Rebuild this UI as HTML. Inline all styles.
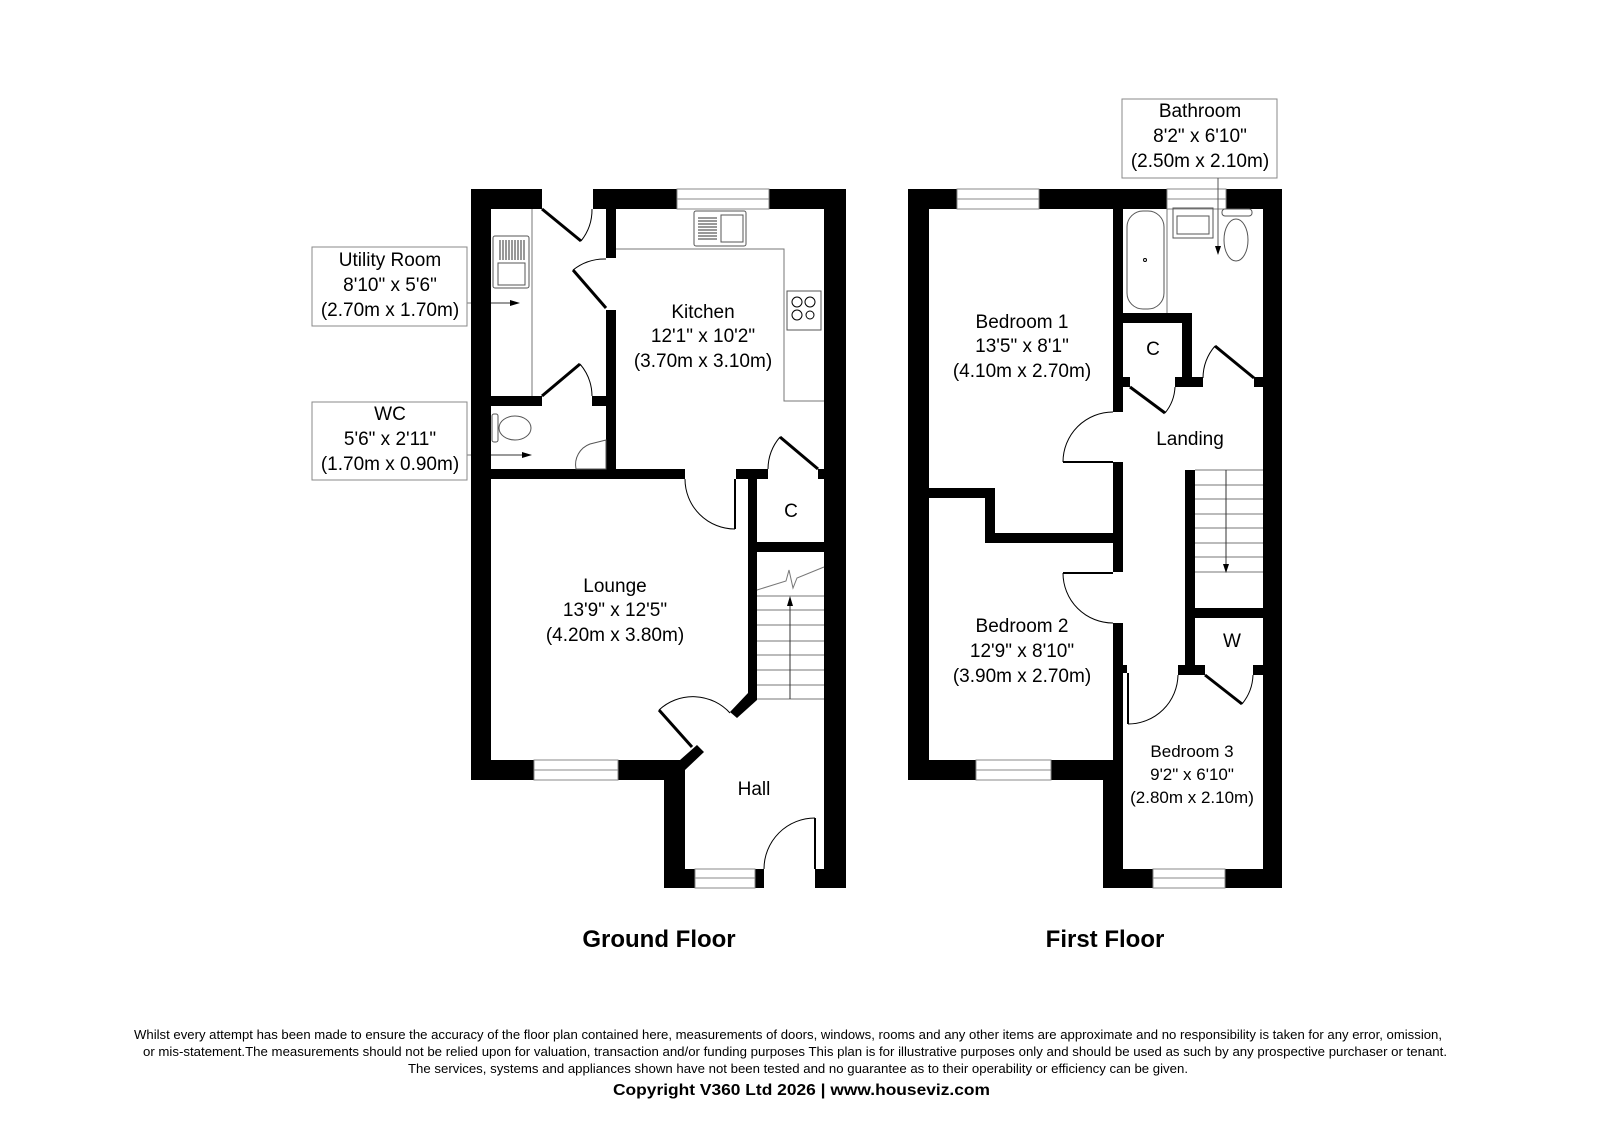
<!DOCTYPE html>
<html><head><meta charset="utf-8"><style>
html,body{margin:0;padding:0;background:#fff}
svg{display:block}
text{font-family:"Liberation Sans",Arial,sans-serif;fill:#000}
</style></head><body>
<svg width="1600" height="1131" viewBox="0 0 1600 1131" xmlns="http://www.w3.org/2000/svg">
<rect width="1600" height="1131" fill="#fff"/>
<!-- ===== GROUND FLOOR ===== -->
<g fill="#000">
<rect x="471" y="189" width="71" height="20"/>
<rect x="593" y="189" width="84" height="20"/>
<rect x="769" y="189" width="77" height="20"/>
<rect x="824" y="189" width="22" height="699"/>
<rect x="471" y="189" width="20" height="591"/>
<rect x="471" y="760" width="63" height="20"/>
<rect x="618" y="760" width="62" height="20"/>
<polygon points="680,760 697,745 704,752 685,770 685,780 680,780"/>
<rect x="664" y="760" width="21" height="128"/>
<rect x="664" y="869" width="31" height="19"/>
<rect x="755" y="869" width="9" height="19"/>
<rect x="815" y="869" width="31" height="19"/>
<rect x="606" y="209" width="10" height="49"/>
<rect x="606" y="310" width="10" height="169"/>
<rect x="491" y="396" width="51" height="10"/>
<rect x="592" y="396" width="24" height="10"/>
<rect x="491" y="469" width="194" height="10"/>
<rect x="736" y="469" width="32" height="10"/>
<rect x="818" y="469" width="6" height="10"/>
<rect x="748" y="479" width="9" height="214"/>
<rect x="757" y="542" width="67" height="10"/>
<polygon points="748,693 757,693 757,700 737,718 730,712"/>
</g>
<!-- windows GF -->
<g fill="#fff" stroke="#888" stroke-width="1">
<rect x="677" y="189" width="92" height="20"/><line x1="677" y1="199" x2="769" y2="199"/>
<rect x="534" y="760" width="84" height="20"/><line x1="534" y1="770" x2="618" y2="770"/>
<rect x="695" y="869" width="60" height="19"/><line x1="695" y1="878" x2="755" y2="878"/>
</g>
<g fill="none" stroke="#000" stroke-width="1">
<!-- doors GF -->
<line x1="542" y1="209" x2="581" y2="241" stroke-width="3"/>
<path d="M581,241 A50,50 0 0 0 592,209"/>
<line x1="606" y1="308" x2="573" y2="270" stroke-width="3"/>
<path d="M573,270 A51,51 0 0 1 606,259"/>
<line x1="542" y1="396" x2="580" y2="364" stroke-width="3"/>
<path d="M580,364 A50,50 0 0 1 592,396"/>
<line x1="735" y1="479" x2="735" y2="529" stroke-width="2"/>
<path d="M685,479 A50,50 0 0 0 735,529"/>
<line x1="818" y1="469" x2="780" y2="437" stroke-width="3"/>
<path d="M780,437 A50,50 0 0 0 768,469"/>
<line x1="692" y1="747" x2="659" y2="710" stroke-width="3"/>
<path d="M659,710 A50,50 0 0 1 730,713"/>
<line x1="815" y1="869" x2="815" y2="818" stroke-width="2"/>
<path d="M815,818 A51,51 0 0 0 764,869"/>
<!-- worktops -->
<polyline points="616,249 784,249 784,401 824,401" stroke="#777"/>
<line x1="532" y1="209" x2="532" y2="396" stroke="#777"/>
<!-- kitchen sink -->
<rect x="694" y="211" width="52" height="35" rx="2" stroke="#555"/>
<rect x="721" y="215" width="22" height="27" stroke="#555"/>
<g stroke="#333"><line x1="698" y1="218" x2="717" y2="218"/><line x1="698" y1="221" x2="717" y2="221"/><line x1="698" y1="224" x2="717" y2="224"/><line x1="698" y1="227" x2="717" y2="227"/><line x1="698" y1="230" x2="717" y2="230"/><line x1="698" y1="233" x2="717" y2="233"/><line x1="698" y1="236" x2="717" y2="236"/><line x1="698" y1="239" x2="717" y2="239"/></g>
<!-- hob -->
<rect x="787" y="291" width="34" height="39" stroke="#555"/>
<circle cx="797" cy="302" r="5"/><circle cx="810" cy="302" r="5"/><circle cx="797" cy="315" r="5"/><circle cx="810" cy="315" r="4"/>
<!-- utility sink -->
<rect x="493" y="236" width="36" height="52" rx="2" stroke="#555"/>
<rect x="498" y="263" width="27" height="22" stroke="#555"/>
<g stroke="#333"><line x1="500" y1="240" x2="500" y2="260"/><line x1="503" y1="240" x2="503" y2="260"/><line x1="506" y1="240" x2="506" y2="260"/><line x1="509" y1="240" x2="509" y2="260"/><line x1="512" y1="240" x2="512" y2="260"/><line x1="515" y1="240" x2="515" y2="260"/><line x1="518" y1="240" x2="518" y2="260"/><line x1="521" y1="240" x2="521" y2="260"/><line x1="524" y1="240" x2="524" y2="260"/></g>
<!-- WC toilet -->
<rect x="492" y="414" width="6" height="28" rx="2" stroke="#555"/>
<ellipse cx="515" cy="428" rx="16" ry="12" stroke="#555"/>
<path d="M590,444 A22,22 0 0 0 576,469 L606,469 L606,440 Z" stroke="#555"/>
<!-- stairs GF -->
<g stroke="#777">
<line x1="757" y1="596" x2="824" y2="596"/><line x1="757" y1="610" x2="824" y2="610"/>
<line x1="757" y1="625" x2="824" y2="625"/><line x1="757" y1="641" x2="824" y2="641"/>
<line x1="757" y1="655" x2="824" y2="655"/><line x1="757" y1="670" x2="824" y2="670"/>
<line x1="757" y1="685" x2="824" y2="685"/><line x1="757" y1="699" x2="824" y2="699"/>
<polyline points="757,590 786,581 789,570 793,588 797,578 824,567"/>
<line x1="790" y1="699" x2="790" y2="602" stroke="#333"/>
</g>
<!-- leaders -->
<line x1="467" y1="303" x2="471" y2="303" stroke="#777"/>
<line x1="491" y1="303" x2="514" y2="303" stroke="#333"/>
<line x1="467" y1="455" x2="471" y2="455" stroke="#777"/>
<line x1="491" y1="455" x2="526" y2="455" stroke="#333"/>
</g>
<polygon points="790,596 787,606 793,606" fill="#000"/>
<polygon points="520,303 510,300 510,306" fill="#000"/>
<polygon points="532,455 522,452 522,458" fill="#000"/>
<!-- label boxes -->
<g fill="#fff" stroke="#888" stroke-width="1">
<rect x="312" y="247" width="155" height="79"/>
<rect x="312" y="402" width="155" height="78"/>
<rect x="1122" y="99" width="155" height="79"/>
</g>
<g font-size="19" text-anchor="middle">
<text x="390" y="266">Utility Room</text><text x="390" y="291">8'10" x 5'6"</text><text x="390" y="316">(2.70m x 1.70m)</text>
<text x="390" y="420">WC</text><text x="390" y="445">5'6" x 2'11"</text><text x="390" y="470">(1.70m x 0.90m)</text>
<text x="1200" y="117">Bathroom</text><text x="1200" y="142">8'2" x 6'10"</text><text x="1200" y="167">(2.50m x 2.10m)</text>
<text x="703" y="318">Kitchen</text><text x="703" y="342">12'1" x 10'2"</text><text x="703" y="367">(3.70m x 3.10m)</text>
<text x="615" y="592">Lounge</text><text x="615" y="616">13'9" x 12'5"</text><text x="615" y="641">(4.20m x 3.80m)</text>
<text x="754" y="795">Hall</text>
<text x="791" y="517">C</text>
<text x="1022" y="328">Bedroom 1</text><text x="1022" y="352">13'5" x 8'1"</text><text x="1022" y="377">(4.10m x 2.70m)</text>
<text x="1190" y="445">Landing</text>
<text x="1153" y="355">C</text>
<text x="1022" y="632">Bedroom 2</text><text x="1022" y="657">12'9" x 8'10"</text><text x="1022" y="682">(3.90m x 2.70m)</text>
<text x="1232" y="647">W</text>
</g>
<g font-size="17" text-anchor="middle">
<text x="1192" y="757">Bedroom 3</text><text x="1192" y="780">9'2" x 6'10"</text><text x="1192" y="803">(2.80m x 2.10m)</text>
</g>
<!-- ===== FIRST FLOOR ===== -->
<g fill="#000">
<rect x="908" y="189" width="49" height="20"/>
<rect x="1039" y="189" width="128" height="20"/>
<rect x="1226" y="189" width="56" height="20"/>
<rect x="908" y="189" width="21" height="591"/>
<rect x="1263" y="189" width="19" height="699"/>
<rect x="908" y="760" width="68" height="20"/>
<rect x="1051" y="760" width="72" height="20"/>
<rect x="1103" y="760" width="20" height="128"/>
<rect x="1103" y="869" width="50" height="19"/>
<rect x="1225" y="869" width="57" height="19"/>
<rect x="1113" y="209" width="10" height="203"/>
<rect x="1113" y="462" width="10" height="110"/>
<rect x="1113" y="623" width="10" height="137"/>
<rect x="929" y="488" width="66" height="10"/>
<rect x="985" y="488" width="10" height="55"/>
<rect x="985" y="533" width="128" height="10"/>
<rect x="1123" y="313" width="69" height="10"/>
<rect x="1182" y="313" width="10" height="74"/>
<rect x="1123" y="377" width="7" height="10"/>
<rect x="1175" y="377" width="28" height="10"/>
<rect x="1254" y="377" width="9" height="10"/>
<rect x="1185" y="470" width="10" height="148"/>
<rect x="1185" y="608" width="78" height="10"/>
<rect x="1185" y="618" width="10" height="50"/>
<rect x="1178" y="665" width="27" height="10"/>
<rect x="1253" y="665" width="10" height="10"/>
<rect x="1123" y="665" width="4" height="8"/>
</g>
<g fill="#fff" stroke="#888" stroke-width="1">
<rect x="957" y="189" width="82" height="20"/><line x1="957" y1="199" x2="1039" y2="199"/>
<rect x="1167" y="189" width="59" height="20"/><line x1="1167" y1="199" x2="1226" y2="199"/>
<rect x="976" y="760" width="75" height="20"/><line x1="976" y1="770" x2="1051" y2="770"/>
<rect x="1153" y="869" width="72" height="19"/><line x1="1153" y1="878" x2="1225" y2="878"/>
</g>
<g fill="none" stroke="#000" stroke-width="1">
<line x1="1113" y1="462" x2="1063" y2="462" stroke-width="2"/>
<path d="M1063,462 A50,50 0 0 1 1113,412"/>
<line x1="1113" y1="573" x2="1063" y2="573" stroke-width="2"/>
<path d="M1063,573 A50,50 0 0 0 1113,623"/>
<line x1="1130" y1="387" x2="1165" y2="413" stroke-width="3"/>
<path d="M1165,413 A44,44 0 0 0 1175,387"/>
<line x1="1254" y1="378" x2="1215" y2="346" stroke-width="3"/>
<path d="M1215,346 A50,50 0 0 0 1203,378"/>
<line x1="1205" y1="675" x2="1242" y2="704" stroke-width="3"/>
<path d="M1242,704 A48,48 0 0 0 1253,675"/>
<line x1="1128" y1="673" x2="1128" y2="724" stroke-width="2"/>
<path d="M1128,724 A50,50 0 0 0 1178,675"/>
<!-- stairs FF -->
<g stroke="#777">
<line x1="1195" y1="470" x2="1263" y2="470"/><line x1="1195" y1="485" x2="1263" y2="485"/>
<line x1="1195" y1="499" x2="1263" y2="499"/><line x1="1195" y1="514" x2="1263" y2="514"/>
<line x1="1195" y1="528" x2="1263" y2="528"/><line x1="1195" y1="543" x2="1263" y2="543"/>
<line x1="1195" y1="557" x2="1263" y2="557"/><line x1="1195" y1="572" x2="1263" y2="572"/>
<line x1="1226" y1="470" x2="1226" y2="566" stroke="#333"/>
</g>
<!-- bathroom fixtures -->
<line x1="1167" y1="209" x2="1167" y2="313" stroke="#777"/>
<rect x="1127" y="211" width="37" height="98" rx="16" stroke="#555"/>
<circle cx="1145" cy="260" r="1.5"/>
<rect x="1173" y="208" width="40" height="30" stroke="#555"/>
<rect x="1177" y="216" width="32" height="18" stroke="#555"/>
<ellipse cx="1236" cy="240" rx="12" ry="21" stroke="#555"/>
<rect x="1222" y="209" width="30" height="7" rx="3" stroke="#555"/>
<line x1="1218" y1="178" x2="1218" y2="248" stroke="#555"/>
</g>
<polygon points="1226,573 1223,564 1229,564" fill="#000"/>
<polygon points="1218,255 1215,246 1221,246" fill="#000"/>
<!-- titles -->
<g font-weight="bold" font-size="24" text-anchor="middle">
<text x="659" y="947">Ground Floor</text>
<text x="1105" y="947">First Floor</text>
</g>
<g font-size="12.5">
<text x="134" y="1039" textLength="1308" lengthAdjust="spacingAndGlyphs">Whilst every attempt has been made to ensure the accuracy of the floor plan contained here, measurements of doors, windows, rooms and any other items are approximate and no responsibility is taken for any error, omission,</text>
<text x="143" y="1056" textLength="1304" lengthAdjust="spacingAndGlyphs">or mis-statement.The measurements should not be relied upon for valuation, transaction and/or funding purposes This plan is for illustrative purposes only and should be used as such by any prospective purchaser or tenant.</text>
<text x="408" y="1073" textLength="780" lengthAdjust="spacingAndGlyphs">The services, systems and appliances shown have not been tested and no guarantee as to their operability or efficiency can be given.</text>
</g>
<text x="613" y="1095" font-size="16" font-weight="bold" textLength="377" lengthAdjust="spacingAndGlyphs">Copyright V360 Ltd 2026 | www.houseviz.com</text>
</svg>
</body></html>
